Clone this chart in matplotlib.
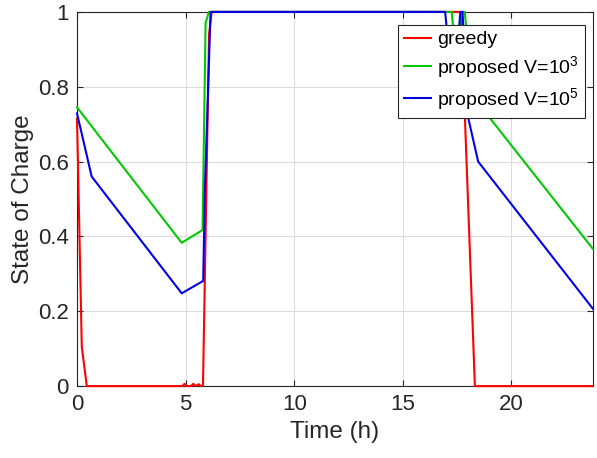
"""State of charge over one day: greedy vs proposed scheduler."""

import matplotlib

matplotlib.use("Agg")
import matplotlib.pyplot as plt

# greedy
greedy_t = [0, 0.22, 0.45, 4.85, 4.95, 5.05, 5.25, 5.35, 5.45, 5.6, 5.7, 5.8,
            6.08, 6.2, 17.68, 18.32, 23.75]
greedy_soc = [0.715, 0.105, 0.0, 0.0, 0.006, 0.0, 0.0, 0.006, 0.0, 0.005, 0.0, 0.0,
              0.94, 1.0, 1.0, 0.0, 0.0]

# proposed, V = 1e3
v3_t = [0, 4.82, 5.78, 5.92, 6.07, 17.25, 17.45, 17.7, 17.85, 18.25, 19.0, 23.75]
v3_soc = [0.745, 0.383, 0.417, 0.97, 1.0, 1.0, 0.88, 1.0, 1.0, 0.775, 0.717, 0.367]

# proposed, V = 1e5
v5_t = [0, 0.675, 4.82, 5.81, 5.89, 6.15, 16.95, 17.2, 17.45, 17.65, 17.75,
        18.0, 18.47, 23.75]
v5_soc = [0.729, 0.56, 0.248, 0.281, 0.53, 1.0, 1.0, 0.85, 0.85, 1.0, 1.0,
          0.72, 0.60, 0.207]

x_ticks = [0, 5, 10, 15, 20]
y_ticks = [0, 0.2, 0.4, 0.6, 0.8, 1]
y_tick_labels = ["0", "0.2", "0.4", "0.6", "0.8", "1"]

plt.rcParams["font.family"] = ["Liberation Sans", "DejaVu Sans"]
plt.rcParams["mathtext.default"] = "regular"

fig = plt.figure(figsize=(5.97, 4.58), dpi=100)
ax = fig.add_axes([0.129, 0.157, 0.864, 0.817])

# lines sit on top of the frame, as in the original (SOC hits 0 and 1 a lot)
line_kw = dict(lw=1.5, clip_on=False, zorder=3)
ax.plot(greedy_t, greedy_soc, color="#ff0000", label="greedy", **line_kw)
ax.plot(v3_t, v3_soc, color="#00c800", label="proposed V=10$^3$", **line_kw)
ax.plot(v5_t, v5_soc, color="#0000e6", label="proposed V=10$^5$", **line_kw)

ax.set_xlim(0, 23.75)
ax.set_ylim(0, 1)
ax.set_xticks(x_ticks)
ax.set_yticks(y_ticks)
ax.set_yticklabels(y_tick_labels)
ax.grid(True, color="#dcdcdc", lw=0.8)
ax.set_axisbelow(True)

dark = "#262626"
for s in ax.spines.values():
    s.set_color(dark)
    s.set_linewidth(0.8)
    s.set_zorder(2.5)
ax.tick_params(direction="in", top=True, right=True, length=4, width=0.8,
               colors=dark, labelsize=16, pad=6)

ax.set_xlabel("Time (h)", fontsize=17.5, color=dark, labelpad=4)
ax.set_ylabel("State of Charge", fontsize=17.5, color=dark, labelpad=3)

leg = ax.legend(loc="upper right", bbox_to_anchor=(0.9845, 0.965), borderaxespad=0,
                fontsize=14, handlelength=1.4, handletextpad=0.3, labelspacing=0.3,
                borderpad=0.3, fancybox=False, framealpha=1, edgecolor=dark)
leg.get_frame().set_linewidth(0.8)
leg.set_zorder(5)

fig.savefig("out.png", dpi=100)
